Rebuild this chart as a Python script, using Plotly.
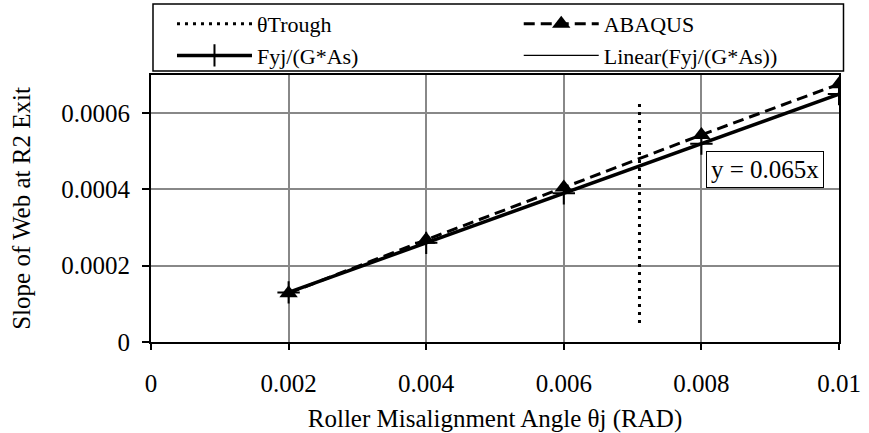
import plotly.graph_objects as go

# ---- data ----
angle_x = [0.002, 0.004, 0.006, 0.008, 0.01]
abaqus_y = [0.000128, 0.000268, 0.000405, 0.000543, 0.000676]
fyj_y = [0.00013, 0.00026, 0.00039, 0.00052, 0.00065]
trend_x = [0.002, 0.01]
trend_y = [0.00013, 0.00065]
trough_x = [0.0071, 0.0071]
trough_y = [0.00005, 0.000635]

x_tickvals = [0, 0.002, 0.004, 0.006, 0.008, 0.01]
x_ticktext = ["0", "0.002", "0.004", "0.006", "0.008", "0.01"]
y_tickvals = [0, 0.0002, 0.0004, 0.0006]
y_ticktext = ["0", "0.0002", "0.0004", "0.0006"]

FONT = "Liberation Serif"

fig = go.Figure()
fig.add_trace(go.Scatter(x=trough_x, y=trough_y, mode="lines", name="θTrough",
                         line=dict(color="black", width=3, dash="3px,5px"),
                         legend="legend", legendrank=1))
fig.add_trace(go.Scatter(x=trend_x, y=trend_y, mode="lines", name="Linear(Fyj/(G*As))",
                         line=dict(color="black", width=1.2),
                         legend="legend2", legendrank=2))
fig.add_trace(go.Scatter(x=angle_x, y=fyj_y, mode="lines+markers", name="Fyj/(G*As)",
                         line=dict(color="black", width=3.5),
                         marker=dict(symbol="cross-thin", size=16,
                                     line=dict(color="black", width=2)),
                         legend="legend", legendrank=2))
fig.add_trace(go.Scatter(x=angle_x, y=abaqus_y, mode="lines+markers", name="ABAQUS",
                         line=dict(color="black", width=3, dash="11px,6px"),
                         marker=dict(symbol="triangle-up", size=16, color="black"),
                         legend="legend2", legendrank=1))

fig.add_annotation(x=0.00892, y=0.000451, xref="x", yref="y", text="y = 0.065x",
                   showarrow=False, font=dict(family=FONT, size=25, color="black"),
                   bordercolor="black", borderwidth=1, borderpad=4, bgcolor="white")

# legend frame
fig.add_shape(type="rect", xref="paper", yref="paper",
              x0=(153 - 151) / 688.5, x1=(844 - 151) / 688.5,
              y0=(342 - 71) / 267, y1=(342 - 4) / 267,
              line=dict(color="black", width=1.5), fillcolor="rgba(0,0,0,0)", layer="above")

legend_common = dict(orientation="v", xanchor="left", yanchor="top",
                     y=(342 - 3) / 267, itemwidth=75,
                     font=dict(family=FONT, size=22, color="black"),
                     bgcolor="rgba(0,0,0,0)", borderwidth=0, traceorder="normal")

fig.update_layout(
    width=869, height=433,
    margin=dict(l=151, r=30, t=75, b=91, autoexpand=False),
    paper_bgcolor="white", plot_bgcolor="white",
    font=dict(family=FONT, size=25, color="black"),
    showlegend=True,
    legend=dict(x=(172 - 151) / 688.5, **legend_common),
    legend2=dict(x=(519 - 151) / 688.5, **legend_common),
    xaxis=dict(range=[0, 0.01], tickvals=x_tickvals, ticktext=x_ticktext,
               showgrid=True, gridcolor="#888888", gridwidth=1.5,
               showline=True, linecolor="black", linewidth=2, mirror=True,
               ticks="outside", ticklen=6, tickwidth=2, tickcolor="black",
               ticklabelstandoff=12, zeroline=False,
               title=dict(text="Roller Misalignment Angle θj (RAD)", standoff=14,
                          font=dict(family=FONT, size=25))),
    yaxis=dict(range=[0, 0.0007], tickvals=y_tickvals, ticktext=y_ticktext,
               showgrid=True, gridcolor="#888888", gridwidth=1.5,
               showline=True, linecolor="black", linewidth=2, mirror=True,
               ticks="outside", ticklen=7, tickwidth=2, tickcolor="black",
               ticklabelstandoff=7, zeroline=False,
               title=dict(text="Slope of Web at R2 Exit", standoff=24,
                          font=dict(family=FONT, size=25))),
)

fig.write_html("out.html")
